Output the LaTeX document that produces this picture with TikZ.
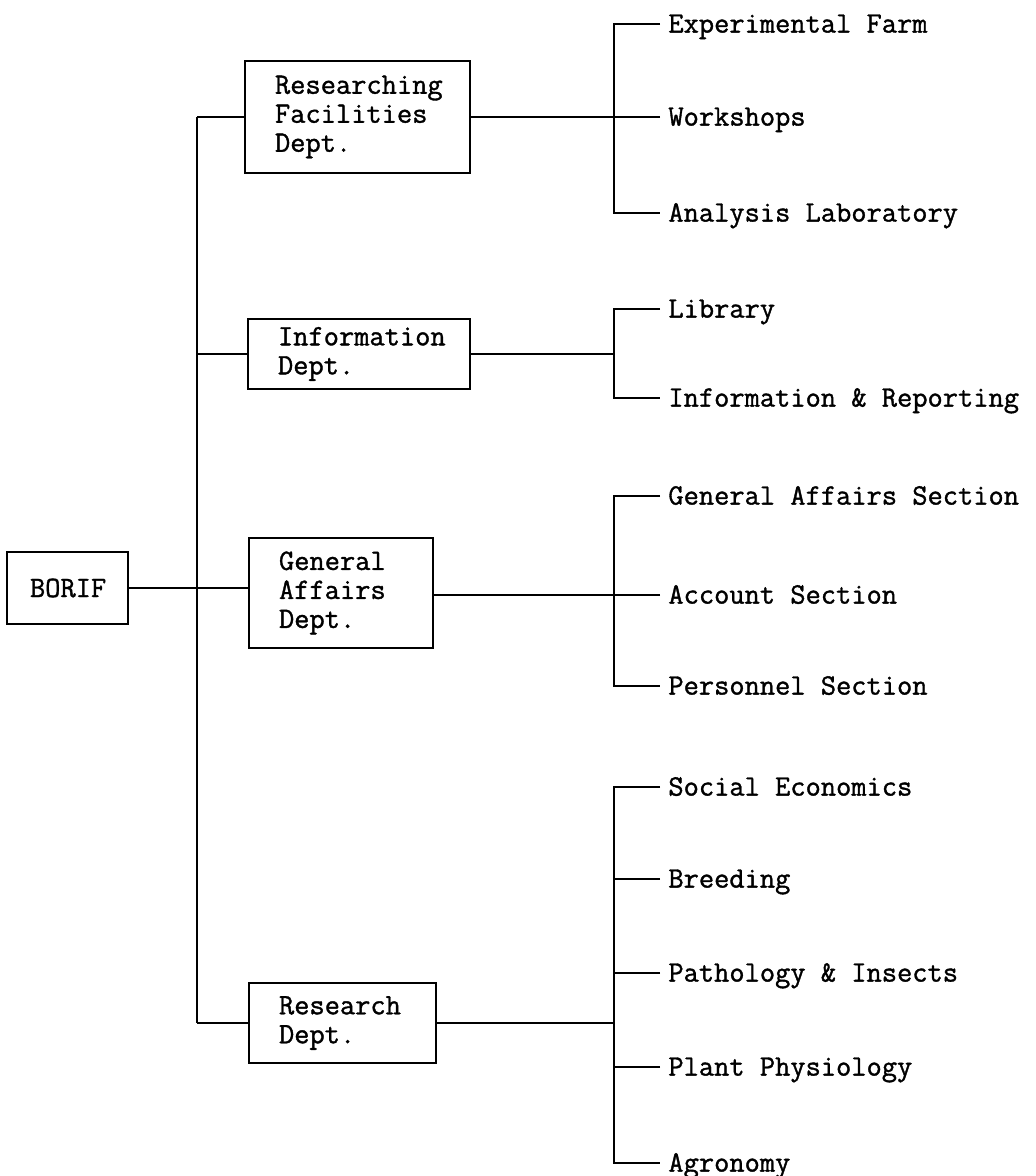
\documentclass[tikz,border=0pt]{standalone}
\usepackage{fontspec}
\newfontfamily\typewriter[FakeBold=1.2]{Latin Modern Mono}

\begin{document}
\begin{tikzpicture} [
    x=0.5pt, y=-0.5pt,
    dept/.style   = { rectangle, draw, line width=1.3pt, align=left,
                      inner xsep=15pt, inner ysep=0pt,
                      font=\typewriter\fontsize{14.8}{14.5}\selectfont },
    unit/.style   = { anchor=west, inner xsep=4pt, inner ysep=2pt,
                      text height=8.6pt, text depth=0pt,
                      font=\typewriter\fontsize{14.8}{14.5}\selectfont },
    line/.style   = { draw, line width=1pt },
  ]

  \useasboundingbox (0,0) rectangle (1035,1176);

  % Define nodes
  \node[dept, inner xsep=11.5pt, text width=37.5pt, minimum height=36pt] (borif) at (67.5,588) {BORIF};

  \node[dept, text width=82.5pt, minimum height=56pt] (facil)    at (357.5,117) {Researching\\Facilities\\Dept.};
  \node[dept, text width=81pt,   minimum height=35pt] (info)     at (359,354)   {Information\\Dept.};
  \node[dept, text width=62pt,   minimum height=55pt] (general)  at (341,593)   {General\\Affairs\\Dept.};
  \node[dept, text width=63.5pt, minimum height=40pt] (research) at (342.5,1023) {Research\\Dept.};

  \node[unit] (farm)    at (660,24)   {Experimental Farm};
  \node[unit] (shops)   at (660,117)  {Workshops};
  \node[unit] (lab)     at (660,213)  {Analysis Laboratory};
  \node[unit] (library) at (660,309)  {Library};
  \node[unit] (report)  at (660,398)  {Information \& Reporting};
  \node[unit] (gas)     at (660,496)  {General Affairs Section};
  \node[unit] (account) at (660,595)  {Account Section};
  \node[unit] (staff)   at (660,686)  {Personnel Section};
  \node[unit] (social)  at (660,787)  {Social Economics};
  \node[unit] (breed)   at (660,879)  {Breeding};
  \node[unit] (patho)   at (660,973)  {Pathology \& Insects};
  \node[unit] (physio)  at (660,1067) {Plant Physiology};
  \node[unit] (agro)    at (660,1163) {Agronomy};

  % spine positions
  \coordinate (trunk) at (197,0);
  \coordinate (sub)   at (614,0);

  % connect the nodes
  \path [line] (borif.east) -- (general.west |- borif.east);
  \path [line] (facil.west -| trunk) -- (research.west -| trunk);
  \path [line] (facil.west) -- (facil.west -| trunk);
  \path [line] (info.west) -- (info.west -| trunk);
  \path [line] (research.west) -- (research.west -| trunk);

  \path [line] (facil.east) -- (facil.east -| sub);
  \path [line] (farm.west) -- (farm.west -| sub) -- (lab.west -| sub) -- (lab.west);
  \path [line] (shops.west) -- (shops.west -| sub);

  \path [line] (info.east) -- (info.east -| sub);
  \path [line] (library.west) -- (library.west -| sub) -- (report.west -| sub) -- (report.west);

  \path [line] (account.west) -- (account.west -| general.east);
  \path [line] (gas.west) -- (gas.west -| sub) -- (staff.west -| sub) -- (staff.west);

  \path [line] (research.east) -- (research.east -| sub);
  \path [line] (social.west) -- (social.west -| sub) -- (agro.west -| sub) -- (agro.west);
  \path [line] (breed.west) -- (breed.west -| sub);
  \path [line] (patho.west) -- (patho.west -| sub);
  \path [line] (physio.west) -- (physio.west -| sub);
\end{tikzpicture}
\end{document}
